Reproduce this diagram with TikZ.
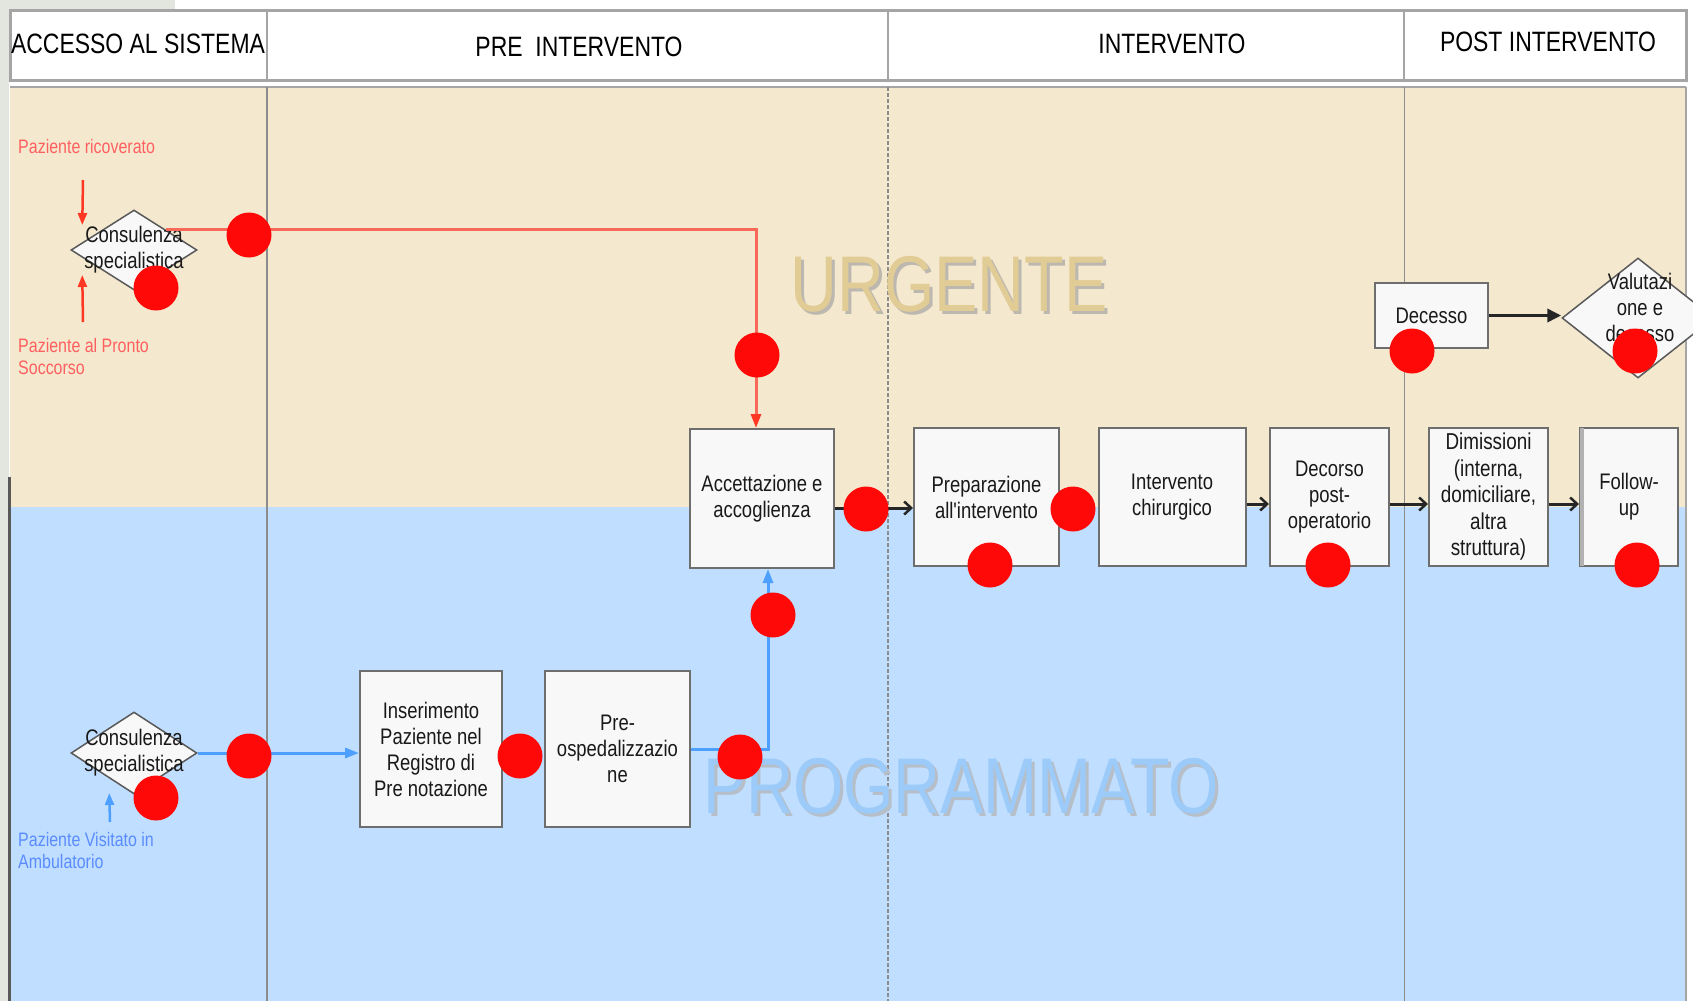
\documentclass[tikz,border=0pt]{standalone}
\usepackage{fontspec}
\setmainfont{Liberation Sans}
\newfontfamily\nar[FakeStretch=0.82]{Liberation Sans}
\usetikzlibrary{shapes.geometric,arrows.meta,calc}
\definecolor{beige}{RGB}{244,233,207}
\definecolor{lblue}{RGB}{192,222,255}
\definecolor{hdrgray}{RGB}{165,165,165}
\definecolor{divgray}{RGB}{140,140,140}
\definecolor{boxgray}{RGB}{110,110,110}
\definecolor{boxfill}{RGB}{248,248,248}
\definecolor{dotred}{RGB}{255,8,8}
\definecolor{linered}{RGB}{248,105,90}
\definecolor{arrred}{RGB}{255,55,35}
\definecolor{labred}{RGB}{255,95,95}
\definecolor{lineblue}{RGB}{77,160,255}
\definecolor{labblue}{RGB}{90,140,255}
\definecolor{urgtan}{RGB}{226,204,150}
\definecolor{progblue}{RGB}{156,203,250}
\definecolor{wmshadow}{RGB}{188,184,176}
\definecolor{wmshadowb}{RGB}{182,190,200}
\definecolor{sidegreen}{RGB}{226,230,222}
\begin{document}
\begin{tikzpicture}[x=1pt,y=-1pt,
  every node/.style={font=\nar\fontsize{22.5}{26}\selectfont, text=black!90, align=center, inner sep=0pt},
  stepbox/.style={draw=boxgray, line width=2pt, fill=boxfill},
  diam/.style={shape=diamond, draw=black!65, line width=1.5pt, fill=boxfill, inner sep=0pt},
  dot/.style={circle, fill=dotred, minimum size=45pt, inner sep=0pt},
  hdr/.style={font=\nar\fontsize{28}{30}\selectfont, text=black},
  lab/.style={font=\nar\fontsize{19.5}{22}\selectfont, align=left, anchor=west},
  flow/.style={line width=3pt, draw=black!85, -{Straight Barb[length=7pt,width=13pt,line width=2.5pt]}},
  wm/.style={font=\nar\fontsize{79}{82}\selectfont},
  redarr/.style={arrred, line width=2.5pt, -{Triangle[length=12pt,width=9pt]}},
  bluearr/.style={lineblue, line width=2.5pt, -{Triangle[length=12pt,width=9pt]}},
]
\useasboundingbox (0,0) rectangle (1693,1001);
\clip (0,0) rectangle (1693,1001);
% background
\fill[white] (0,0) rectangle (1693,1001);
\fill[sidegreen] (0,0) rectangle (9,1001);
\fill[sidegreen] (0,0) rectangle (175,9);
\fill[beige] (10,87) rectangle (1686,507);
\fill[lblue] (10,507) rectangle (1686,1001);
\draw[hdrgray, line width=2.5pt] (10,87) -- (1686,87);
\draw[hdrgray, line width=1.5pt] (1686,87) -- (1686,1001);
\draw[black!65, line width=3pt] (9.5,477) -- (9.5,1001);
% header
\draw[hdrgray, line width=3pt, fill=white] (10,10) rectangle (1686,80);
\draw[hdrgray, line width=2pt] (267,10) -- (267,80) (888,10) -- (888,80) (1404,10) -- (1404,80);
% column dividers
\draw[divgray, line width=2.5pt] (267,87) -- (267,1001);
\draw[divgray, line width=2.5pt, dash pattern=on 4pt off 2pt] (888,87) -- (888,1001);
\draw[divgray, line width=1pt] (1404,87) -- (1404,1001);
% header texts
\node[hdr] (h1) at (138,44) {ACCESSO AL SISTEMA};
\node[hdr] (h2) at (579,47) {PRE\ \ INTERVENTO};
\node[hdr] (h3) at (1172,44) {INTERVENTO};
\node[hdr] (h4) at (1548,42) {POST INTERVENTO};
% watermarks
\node[wm, text=wmshadow] (urgs) at (952,287) {URGENTE};
\node[wm, text=urgtan] (urg) at (949,284) {URGENTE};
\node[wm, text=wmshadowb] (progs) at (964,789) {PROGRAMMATO};
\node[wm, text=progblue] (prog) at (961,786) {PROGRAMMATO};
% side labels
\node[lab, text=labred] (pr) at (18,147) {Paziente ricoverato};
\node[lab, text=labred] (pps) at (18,357) {Paziente al Pronto\\Soccorso};
\node[lab, text=labblue] (pva) at (18,851) {Paziente Visitato in\\Ambulatorio};
% nodes
\node[diam, minimum width=126pt, minimum height=80pt] (cons1) at (134,250) {};
\node (cons1t) at (cons1) {Consulenza\\specialistica};
\node[diam, minimum width=126pt, minimum height=82pt] (cons2) at (134,753) {};
\node (cons2t) at (cons2) {Consulenza\\specialistica};
\node[stepbox, minimum width=144pt, minimum height=139pt] (acc) at (762,498.5) {Accettazione e\\accoglienza};
\node[stepbox, minimum width=145pt, minimum height=138pt] (prep) at (986.5,497) {Preparazione\\all'intervento};
\node[stepbox, minimum width=147pt, minimum height=138pt] (interv) at (1172,497) {Intervento\\chirurgico};
\node[stepbox, minimum width=119pt, minimum height=138pt] (dec) at (1329.5,497) {Decorso\\post-\\operatorio};
\node[stepbox, minimum width=119pt, minimum height=138pt, font=\nar\fontsize{23}{26.5}\selectfont] (dimi) at (1488.5,497) {Dimissioni\\(interna,\\domiciliare,\\altra\\struttura)};
\node[stepbox, minimum width=98pt, minimum height=138pt] (follow) at (1629,497) {Follow-\\up};
\draw[black!30, line width=4pt] ($(follow.north west)+(3,1)$) -- ($(follow.south west)+(3,-1)$);
\node[stepbox, minimum width=113pt, minimum height=65pt] (decesso) at (1431.5,315.5) {Decesso};
\node[diam, minimum width=152pt, minimum height=120pt] (valut) at (1638,318) {};
\node (valutt) at (1640,307) {Valutazi\\one e\\decesso};
\node[stepbox, minimum width=142pt, minimum height=156pt] (ins) at (431,749) {Inserimento\\Paziente nel\\Registro di\\Pre notazione};
\node[stepbox, minimum width=145pt, minimum height=156pt] (pre) at (617.5,749) {Pre-\\ospedalizzazio\\ne};
% entry arrows
\coordinate (ra1) at (83,180);
\coordinate (ra2) at (83,322);
\coordinate (ba1) at (110,822);
\draw[redarr] (ra1) -- ($(cons1.west)+(12,-25)$);
\draw[redarr] (ra2) -- ($(cons1.west)+(12,25)$);
\draw[bluearr] (ba1) -- ($(cons2.west)+(39,40)$);
% connectors
\draw[linered, line width=3pt, -{Triangle[length=14pt,width=10pt,color=arrred]}] (cons1.north east) -| ($(acc.north)+(-6,0)$);
\draw[lineblue, line width=3pt, -{Triangle[length=14pt,width=10pt]}] (cons2.east) -- (cons2.east -| ins.west);
\draw[lineblue, line width=3pt, -{Triangle[length=14pt,width=10pt]}] (pre.east) -| ($(acc.south)+(6,0)$);
\draw[flow] ($(acc.east)+(0,9.5)$) -- ($(prep.west)+(0,11)$);
\draw[flow] ($(interv.east)+(0,7)$) -- ($(dec.west)+(0,7)$);
\draw[flow] ($(dec.east)+(0,7)$) -- ($(dimi.west)+(0,7)$);
\draw[flow] ($(dimi.east)+(0,7)$) -- ($(follow.west)+(0,7)$);
\draw[line width=3.5pt, black!85, -{Triangle[length=14pt,width=13pt]}] (decesso.east) -- (decesso.east -| valut.west);
% red dots
\node[dot] (d1) at (249,235) {};
\node[dot] (d2) at (156,288) {};
\node[dot] (d3) at (757,355) {};
\node[dot] (d4) at (866,509) {};
\node[dot] (d5) at (1073,509) {};
\node[dot] (d6) at (990,565) {};
\node[dot] (d7) at (1328,565) {};
\node[dot] (d8) at (1412,351) {};
\node[dot] (d9) at (1635,351) {};
\node[dot] (d10) at (1637,565) {};
\node[dot] (d11) at (249,756) {};
\node[dot] (d12) at (156,798) {};
\node[dot] (d13) at (520,756) {};
\node[dot] (d14) at (740,757) {};
\node[dot] (d15) at (773,615) {};
\end{tikzpicture}
\end{document}
